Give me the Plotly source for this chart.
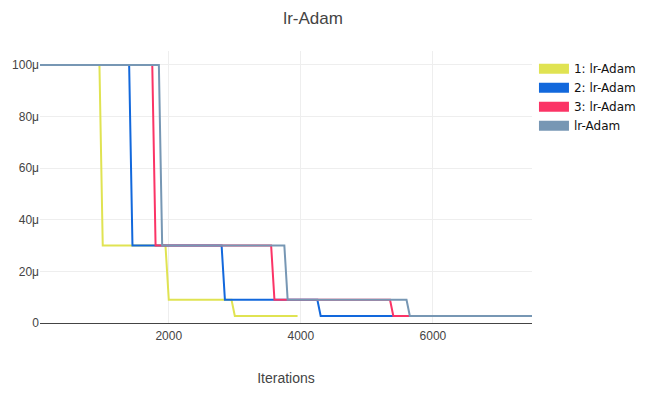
import plotly.graph_objects as go

# Breakpoints of the step schedules (iteration, learning rate)
run1_x = [50, 950, 1000, 1950, 2000, 2950, 3000, 3950]
run1_y = [1e-4, 1e-4, 3e-5, 3e-5, 9e-6, 9e-6, 2.7e-6, 2.7e-6]

run2_x = [50, 1400, 1450, 2800, 2850, 4250, 4300, 7500]
run2_y = [1e-4, 1e-4, 3e-5, 3e-5, 9e-6, 9e-6, 2.7e-6, 2.7e-6]

run3_x = [50, 1750, 1800, 3550, 3600, 5350, 5400, 7500]
run3_y = [1e-4, 1e-4, 3e-5, 3e-5, 9e-6, 9e-6, 2.7e-6, 2.7e-6]

run4_x = [50, 1850, 1900, 3750, 3800, 5600, 5650, 7500]
run4_y = [1e-4, 1e-4, 3e-5, 3e-5, 9e-6, 9e-6, 2.7e-6, 2.7e-6]

names = ["1: lr-Adam", "2: lr-Adam", "3: lr-Adam", "lr-Adam"]
colors = ["#e0e352", "#1268dc", "#fb3466", "#7797b4"]
xs = [run1_x, run2_x, run3_x, run4_x]
ys = [run1_y, run2_y, run3_y, run4_y]

fig = go.Figure()
for i in range(4):
    fig.add_trace(go.Scatter(x=xs[i], y=ys[i], mode="lines", name=names[i],
                             line=dict(color=colors[i], width=2),
                             legendgroup=names[i], showlegend=False))
for i in range(4):
    fig.add_trace(go.Scatter(x=[None], y=[None], mode="lines", name=names[i],
                             line=dict(color=colors[i], width=10),
                             legendgroup=names[i], showlegend=True))

fig.update_layout(
    width=651, height=395,
    margin=dict(l=40, r=119, t=51, b=72, autoexpand=False),
    paper_bgcolor="white", plot_bgcolor="white",
    font=dict(family="Liberation Sans, Arial, sans-serif", size=12, color="#444"),
    title=dict(text="lr-Adam", x=0.481, xanchor="center", y=0.955, yanchor="middle",
               font=dict(size=17, color="#444")),
    xaxis=dict(title=dict(text="Iterations", font=dict(size=14), standoff=31),
               range=[50, 7500], tickvals=[2000, 4000, 6000], gridcolor="#eeeeee",
               zeroline=False, showline=False, ticks="", ticklen=0,
               ticklabelstandoff=4),
    yaxis=dict(range=[0, 1.054e-4], tickvals=[0, 2e-5, 4e-5, 6e-5, 8e-5, 1e-4],
               ticktext=["0", "20μ", "40μ", "60μ", "80μ", "100μ"],
               gridcolor="#eeeeee", zeroline=True, zerolinecolor="#444", zerolinewidth=1),
    legend=dict(x=1.004, xanchor="left", y=0.988, yanchor="top", tracegroupgap=0,
                font=dict(family="DejaVu Sans", size=12, color="#111")),
)

fig.write_html("out.html")
